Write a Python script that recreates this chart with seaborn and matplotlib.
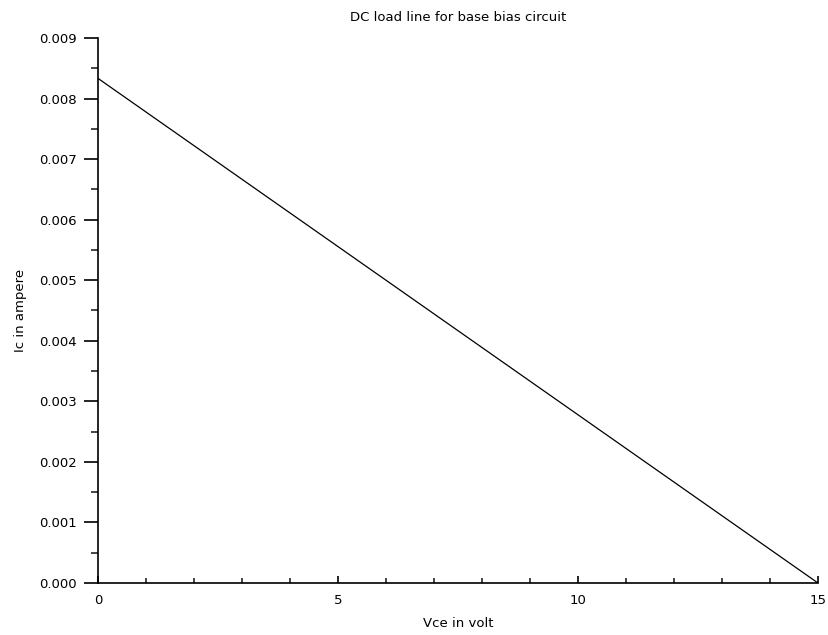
import matplotlib
matplotlib.use("Agg")
import matplotlib.pyplot as plt
from matplotlib.ticker import MultipleLocator, FormatStrFormatter
import pandas as pd
import seaborn as sns

# DC load line: Vcc = 15 V, Rc = 1.8 kOhm
vce = [0, 15]
ic = [0.008333, 0]

df = pd.DataFrame({'Vce': vce, 'Ic': ic})

sns.set_style("ticks")
plt.rcParams['font.family'] = ['DejaVu Sans']

fig = plt.figure(figsize=(8.29, 6.35), dpi=100)
ax = fig.add_axes([0.1182, 0.0819, 0.8685, 0.8583])
sns.lineplot(x='Vce', y='Ic', data=df, ax=ax, color='black', linewidth=0.9)

ax.set_xlim(0, 15)
ax.set_ylim(0, 0.009)
ax.xaxis.set_major_locator(MultipleLocator(5))
ax.xaxis.set_minor_locator(MultipleLocator(1))
ax.yaxis.set_major_locator(MultipleLocator(0.001))
ax.yaxis.set_minor_locator(MultipleLocator(0.0005))
ax.yaxis.set_major_formatter(FormatStrFormatter('%.3f'))

for s in ['top', 'right']:
    ax.spines[s].set_visible(False)
for s in ['left', 'bottom']:
    ax.spines[s].set_linewidth(1.2)
    ax.spines[s].set_color('black')

ax.tick_params(axis='y', which='major', direction='out', length=10, width=1.2,
               labelsize=9.5, pad=5, colors='black')
ax.tick_params(axis='y', which='minor', direction='out', length=5, width=1.2)
ax.tick_params(axis='x', which='major', direction='in', length=5, width=1.2,
               labelsize=9.5, pad=8, colors='black')
ax.tick_params(axis='x', which='minor', direction='in', length=3.5, width=1.2)

ax.set_xlabel('Vce in volt', fontsize=9.5, labelpad=7, color='black')
ax.set_ylabel('Ic in ampere', fontsize=9.5, labelpad=9, color='black')
ax.set_title('DC load line for base bias circuit', fontsize=9.5, pad=12, color='black')

fig.savefig('out.png', dpi=100)
